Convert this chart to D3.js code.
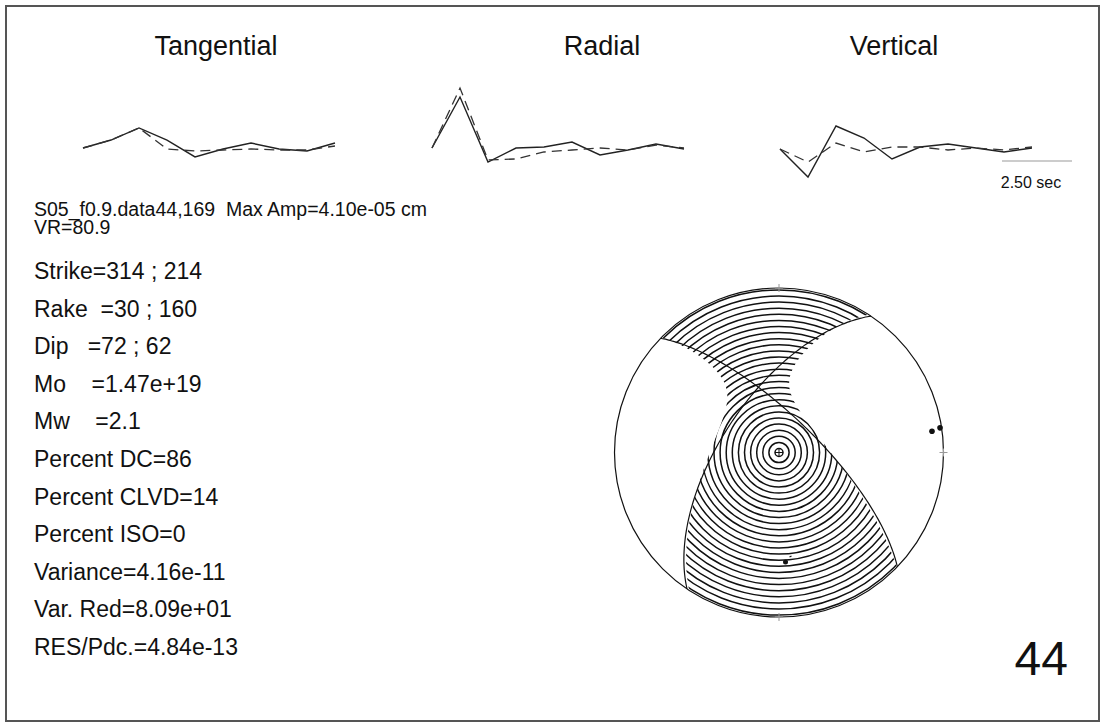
<!DOCTYPE html>
<html>
<head>
<meta charset="utf-8">
<script src="https://cdn.jsdelivr.net/npm/d3@7"></script>
<style>
  body { margin: 0; background: #fff; }
  svg { display: block; }
  text { font-family: "Liberation Sans", Arial, Helvetica, sans-serif; fill: #111; white-space: pre; }
</style>
</head>
<body>
<svg id="chart" width="1103" height="725"></svg>
<script>
// ---- waveform samples: one per second, amplitude in 1e-5 cm ----
const componentNames = ["Tangential", "Radial", "Vertical"];
const tangentialData  = [0, 0.64, 1.61, 0.64, -0.72, -0.08, 0.40, -0.08, -0.24, 0.40];
const tangentialSynth = [0, 0.64, 1.61, -0.08, -0.24, -0.16, -0.08, -0.16, -0.16, 0.16];
const radialData      = [0, 4.10, -1.13, 0, 0.08, 0.48, -0.56, -0.16, 0.32, -0.08];
const radialSynth     = [0, 4.82, -0.96, -0.88, -0.32, -0.16, 0, -0.16, 0.24, 0];
const verticalData    = [-0.08, -2.33, 1.77, 0.80, -0.88, 0.08, 0.32, 0, -0.32, 0];
const verticalSynth   = [-0.08, -1.13, 0.40, -0.32, 0.08, 0.08, -0.16, 0, -0.16, 0.08];
const scaleBarSeconds = 2.5;

// ---- solution ----
const stationInfo = "S05_f0.9.data44,169";
const maxAmp = "4.10e-05";
const varianceReductionPct = 80.9;
const strikes = [314, 214];
const rakes = [30, 160];
const dips = [72, 62];
const momentText = "1.47e+19";
const magnitude = 2.1;
const percentDC = 86, percentCLVD = 14, percentISO = 0;
const varianceText = "4.16e-11";
const varRedText = "8.09e+01";
const resPdcText = "4.84e-13";
const eventNumber = "44";

// axis markers [azimuth, plunge] in degrees
const pAxisMarks = [[82.1, 6.8], [81.3, 1.1]];
const tAxisMarks = [[176.6, 33.7]];
const edgeMarkAzimuths = [0, 90, 180];

const svg = d3.select("#chart");

// frame
svg.append("rect").attr("x", 6).attr("y", 6).attr("width", 1093).attr("height", 715)
  .attr("fill", "none").attr("stroke", "#555").attr("stroke-width", 2);

// ---- waveforms ----
const timeScale = d3.scaleLinear().domain([0, 9]).range([0, 252]);
const ampScale = d3.scaleLinear().domain([0, 4.10]).range([148, 97]);
const traceOrigins = [83, 432, 780];
const titleCenters = [216, 602, 894];
const traces = [
  [tangentialData, tangentialSynth],
  [radialData, radialSynth],
  [verticalData, verticalSynth]
];

componentNames.forEach((name, k) => {
  svg.append("text").attr("x", titleCenters[k]).attr("y", 55)
    .attr("text-anchor", "middle").attr("font-size", 27).text(name);
  const line = d3.line()
    .x((d, i) => traceOrigins[k] + timeScale(i))
    .y(d => ampScale(d));
  svg.append("path").attr("d", line(traces[k][0]))
    .attr("fill", "none").attr("stroke", "#222").attr("stroke-width", 1.4);
  svg.append("path").attr("d", line(traces[k][1]))
    .attr("fill", "none").attr("stroke", "#333").attr("stroke-width", 1.3)
    .attr("stroke-dasharray", "10,6");
});

// time scale bar
const barX = 1002, barY = 161;
const barLen = timeScale(scaleBarSeconds) - timeScale(0);
svg.append("line").attr("x1", barX).attr("x2", barX + barLen)
  .attr("y1", barY).attr("y2", barY).attr("stroke", "#999").attr("stroke-width", 1.2);
svg.append("text").attr("x", barX + barLen / 2 - 6).attr("y", 188)
  .attr("text-anchor", "middle").attr("font-size", 16).text(scaleBarSeconds.toFixed(2) + " sec");

// ---- text block ----
svg.append("text").attr("x", 34).attr("y", 216).attr("font-size", 19.5)
  .text(`${stationInfo}  Max Amp=${maxAmp} cm`);
svg.append("text").attr("x", 34).attr("y", 234).attr("font-size", 19.5)
  .text(`VR=${varianceReductionPct.toFixed(1)}`);

const solutionLines = [
  `Strike=${strikes[0]} ; ${strikes[1]}`,
  `Rake  =${rakes[0]} ; ${rakes[1]}`,
  `Dip   =${dips[0]} ; ${dips[1]}`,
  `Mo    =${momentText}`,
  `Mw    =${magnitude.toFixed(1)}`,
  `Percent DC=${percentDC}`,
  `Percent CLVD=${percentCLVD}`,
  `Percent ISO=${percentISO}`,
  `Variance=${varianceText}`,
  `Var. Red=${varRedText}`,
  `RES/Pdc.=${resPdcText}`
];
svg.selectAll("text.sol").data(solutionLines).join("text").attr("class", "sol")
  .attr("x", 34).attr("y", (d, i) => 279 + i * 37.6).attr("font-size", 23).text(d => d);

svg.append("text").attr("x", 1068).attr("y", 675).attr("text-anchor", "end")
  .attr("font-size", 48).text(eventNumber);

// ---- focal mechanism (lower hemisphere, equal-area) ----
const cx = 779, cy = 452.5, R = 164.5;
const rad = Math.PI / 180;
const radiusScale = d3.scaleLinear().domain([0, 1]).range([0, R]);

// NED unit vector -> screen position
function project(v) {
  let [n, e, z] = v;
  if (z < 0) { n = -n; e = -e; z = -z; }
  const inc = Math.acos(Math.min(1, z));
  const r = radiusScale(Math.SQRT2 * Math.sin(inc / 2));
  const az = Math.atan2(e, n);
  return [cx + r * Math.sin(az), cy - r * Math.cos(az)];
}
function fromAzPlunge(az, pl) {
  return [Math.cos(pl * rad) * Math.cos(az * rad), Math.cos(pl * rad) * Math.sin(az * rad), Math.sin(pl * rad)];
}

// fault normal and slip of plane 1
const phi = strikes[0] * rad, del = dips[0] * rad, lam = rakes[0] * rad;
const nrm = [-Math.sin(del) * Math.sin(phi), Math.sin(del) * Math.cos(phi), -Math.cos(del)];
const slip = [
  Math.cos(lam) * Math.cos(phi) + Math.cos(del) * Math.sin(lam) * Math.sin(phi),
  Math.cos(lam) * Math.sin(phi) - Math.cos(del) * Math.sin(lam) * Math.cos(phi),
  -Math.sin(lam) * Math.sin(del)
];
const tAx = nrm.map((v, i) => (v + slip[i]) / Math.SQRT2);
const pAx = nrm.map((v, i) => (v - slip[i]) / Math.SQRT2);
const bAx = [
  nrm[1] * slip[2] - nrm[2] * slip[1],
  nrm[2] * slip[0] - nrm[0] * slip[2],
  nrm[0] * slip[1] - nrm[1] * slip[0]
];
// eigenvalues of DC + CLVD (CLVD minor dipole on the null axis)
const eps = (1 - percentDC / 100) / 2;
const eigen = [[tAx, 1 - eps], [bAx, eps], [pAx, -1]];
const dot = (a, b) => a[0] * b[0] + a[1] * b[1] + a[2] * b[2];
function amplitude(g) {
  return eigen.reduce((s, [v, l]) => s + l * dot(g, v) ** 2, 0);
}

// positive (compressional) region via contouring on a grid
const G = 360, span = 1.03;
const vals = new Float64Array(G * G);
for (let j = 0; j < G; j++) {
  for (let i = 0; i < G; i++) {
    const u = ((i + 0.5) / G * 2 - 1) * span;
    const w = ((j + 0.5) / G * 2 - 1) * span;
    let r = Math.hypot(u, w);
    if (r > 1) r = 1;
    const inc = 2 * Math.asin(Math.min(1, r / Math.SQRT2));
    const az = Math.atan2(u, -w);
    const g = [Math.sin(inc) * Math.cos(az), Math.sin(inc) * Math.sin(az), Math.cos(inc)];
    vals[j * G + i] = amplitude(g);
  }
}
const contour = d3.contours().size([G, G]).smooth(true).thresholds([0])(vals)[0];
const cell = 2 * span * R / G;
const gridPath = d3.geoPath(d3.geoIdentity().scale(cell).translate([cx - span * R, cy - span * R]));

const defs = svg.append("defs");
defs.append("clipPath").attr("id", "compClip").append("path").attr("d", gridPath(contour));

// concentric rings filling the compressional region
const ringRadii = d3.range(27).map(k => 4 + k * 6.1).filter(r => r < R);
svg.append("g").attr("clip-path", "url(#compClip)")
  .selectAll("circle").data(ringRadii).join("circle")
  .attr("cx", cx).attr("cy", cy).attr("r", d => d)
  .attr("fill", "none").attr("stroke", "#111").attr("stroke-width", 1.5);

// nodal planes
function planePoints(strike, dip) {
  const f = strike * rad, d = dip * rad;
  const s = [Math.cos(f), Math.sin(f), 0];
  const dd = [-Math.cos(d) * Math.sin(f), Math.cos(d) * Math.cos(f), Math.sin(d)];
  return d3.range(0, 181, 2).map(t => {
    const a = t * rad;
    return project([Math.cos(a) * s[0] + Math.sin(a) * dd[0], Math.cos(a) * s[1] + Math.sin(a) * dd[1], Math.cos(a) * s[2] + Math.sin(a) * dd[2] + 1e-9]);
  });
}
strikes.forEach((s, k) => {
  svg.append("path").attr("d", d3.line().curve(d3.curveCatmullRom)(planePoints(s, dips[k])))
    .attr("fill", "none").attr("stroke", "#111").attr("stroke-width", 1.2);
});

// primitive circle
svg.append("circle").attr("cx", cx).attr("cy", cy).attr("r", R)
  .attr("fill", "none").attr("stroke", "#111").attr("stroke-width", 1.2);

// center mark
svg.append("path").attr("d", `M${cx - 4},${cy}H${cx + 4}M${cx},${cy - 4}V${cy + 4}`)
  .attr("stroke", "#111").attr("stroke-width", 1);

// edge marks
edgeMarkAzimuths.forEach(az => {
  const [x, y] = project(fromAzPlunge(az, 0));
  svg.append("path").attr("d", `M${x - 4},${y}H${x + 4}M${x},${y - 4}V${y + 4}`)
    .attr("stroke", "#999").attr("stroke-width", 1);
});

// P and T axis markers
pAxisMarks.forEach(([az, pl]) => {
  const [x, y] = project(fromAzPlunge(az, pl));
  svg.append("circle").attr("cx", x).attr("cy", y).attr("r", 2.8).attr("fill", "#111");
});
tAxisMarks.forEach(([az, pl]) => {
  const [x, y] = project(fromAzPlunge(az, pl));
  svg.append("circle").attr("cx", x).attr("cy", y).attr("r", 2.5).attr("fill", "#111");
  svg.append("path").attr("d", `M${x + 4},${y - 5}l2,-1`).attr("stroke", "#111").attr("stroke-width", 1.2);
});
</script>
</body>
</html>
